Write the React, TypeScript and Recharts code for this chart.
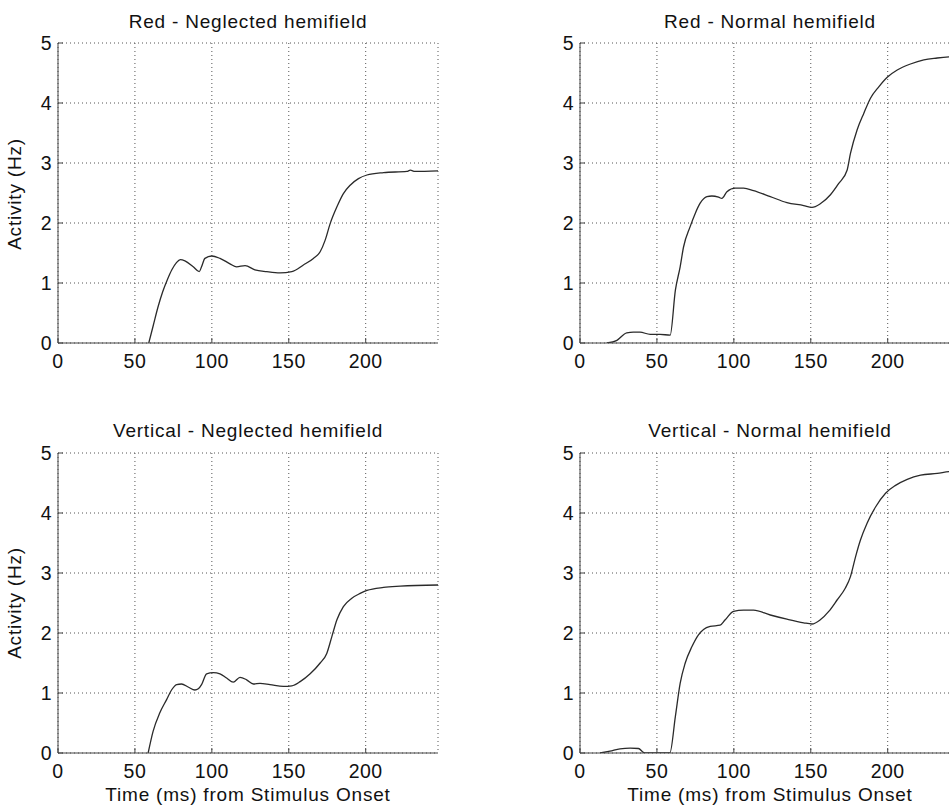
import React from 'react';
import { LineChart, Line, XAxis, YAxis, CartesianGrid } from 'recharts';

// ---- Data (time in ms, activity in Hz) ----
const redNeglectedTime = [59, 62, 65, 68, 71, 74, 77, 79.5, 82.5, 87.9, 91.8, 93.3, 95.5, 99.9, 105.3, 111.8, 116.1, 121.6, 128, 135.7, 144.3, 152, 159.5, 166, 170.4, 173.6, 176.9, 181.3, 185.5, 189.9, 195.3, 200.8, 211.6, 226.8, 229, 232, 247];
const redNeglectedActivity = [0, 0.3, 0.6, 0.85, 1.05, 1.22, 1.34, 1.39, 1.37, 1.27, 1.19, 1.27, 1.41, 1.45, 1.41, 1.32, 1.27, 1.29, 1.22, 1.19, 1.17, 1.19, 1.3, 1.41, 1.52, 1.71, 1.99, 2.27, 2.49, 2.63, 2.74, 2.8, 2.84, 2.86, 2.88, 2.86, 2.87];

const redNormalTime = [17.4, 24, 30.4, 34.7, 39, 45.6, 52, 58.6, 62, 65.1, 67.3, 71.6, 74.9, 78.1, 82.5, 85.7, 90.1, 92.2, 95.5, 100.9, 106.3, 112.8, 123.7, 134.5, 145.4, 150.8, 156.2, 162.8, 168.2, 173.6, 175.8, 180.1, 184.5, 188.8, 194.2, 199.7, 206.2, 214.8, 223.5, 232.2, 240.2, 247];
const redNormalActivity = [0, 0.045, 0.17, 0.18, 0.18, 0.145, 0.145, 0.13, 0.88, 1.27, 1.6, 1.94, 2.16, 2.33, 2.44, 2.45, 2.43, 2.41, 2.52, 2.58, 2.58, 2.54, 2.44, 2.34, 2.29, 2.26, 2.32, 2.47, 2.66, 2.88, 3.16, 3.55, 3.83, 4.08, 4.27, 4.43, 4.55, 4.65, 4.72, 4.75, 4.77, 4.78];

const verticalNeglectedTime = [58.6, 61.8, 66.2, 70.6, 73.8, 77.1, 80.3, 84.6, 89, 91.2, 93.3, 96.6, 100.9, 105.3, 109.6, 113.9, 118.3, 122.6, 127, 131.3, 137.8, 146.5, 152, 157.4, 163.9, 170.4, 174.7, 178, 181.3, 185.5, 191, 196.4, 200.8, 211.6, 222.5, 247];
const verticalNeglectedActivity = [0, 0.36, 0.67, 0.89, 1.05, 1.14, 1.15, 1.1, 1.05, 1.07, 1.14, 1.32, 1.34, 1.32, 1.25, 1.18, 1.26, 1.22, 1.15, 1.16, 1.14, 1.11, 1.12, 1.19, 1.32, 1.5, 1.66, 1.94, 2.22, 2.44, 2.58, 2.66, 2.71, 2.76, 2.78, 2.8];

const verticalNormalTime = [13, 19.5, 26, 32.6, 38, 41.2, 42.3, 50, 58.4, 62, 65.1, 68.4, 72.7, 77, 80.3, 84.6, 91.1, 94.4, 99.8, 106.3, 112.8, 123.7, 134.5, 145.4, 150.8, 156.2, 161.7, 167.1, 172.5, 175.8, 179.1, 182.3, 186.6, 192.1, 198.6, 205.1, 212.7, 221.4, 232.2, 240.2, 247];
const verticalNormalActivity = [0, 0.03, 0.07, 0.08, 0.075, 0.01, 0, 0, 0, 0.61, 1.16, 1.5, 1.77, 1.97, 2.06, 2.11, 2.13, 2.22, 2.36, 2.38, 2.38, 2.3, 2.23, 2.17, 2.15, 2.22, 2.36, 2.55, 2.75, 2.94, 3.27, 3.55, 3.83, 4.1, 4.33, 4.46, 4.56, 4.63, 4.66, 4.69, 4.7];

const xTicks = [0, 50, 100, 150, 200];
const yTicks = [0, 1, 2, 3, 4, 5];
const titles = [
  'Red - Neglected hemifield',
  'Red - Normal hemifield',
  'Vertical - Neglected hemifield',
  'Vertical - Normal hemifield',
];
const yLabel = 'Activity (Hz)';
const xLabel = 'Time (ms) from Stimulus Onset';

const zip = (t: number[], v: number[]) => t.map((x, i) => ({ t: x, v: v[i] }));

const FONT = '"Liberation Sans", Arial, Helvetica, sans-serif';
const TICK_FONT = { fontSize: 19.5, fill: '#111', fontFamily: FONT, letterSpacing: 0.5 };
const AXIS_COLOR = '#444';

function Panel({ data, left, top }: { data: { t: number; v: number }[]; left: number; top: number }) {
  return (
    <div style={{ position: 'absolute', left, top }}>
      <LineChart width={448} height={380} data={data} margin={{ top: 43, right: 10, bottom: 0, left: 0 }}>
        <CartesianGrid stroke="#555" strokeDasharray="1 3" strokeWidth={1} />
        <XAxis
          xAxisId={0}
          type="number"
          dataKey="t"
          domain={[0, 247]}
          ticks={xTicks}
          allowDataOverflow
          height={37}
          tickSize={-5}
          tickMargin={16}
          stroke={AXIS_COLOR}
          tick={TICK_FONT}
          interval={0}
        />
        <XAxis
          xAxisId="top"
          orientation="top"
          type="number"
          dataKey="t"
          domain={[0, 247]}
          ticks={xTicks}
          allowDataOverflow
          height={0}
          tickSize={-5}
          tickFormatter={() => ''}
          stroke={AXIS_COLOR}
          interval={0}
        />
        <YAxis
          yAxisId={0}
          type="number"
          domain={[0, 5]}
          ticks={yTicks}
          allowDataOverflow
          width={58}
          tickSize={-5}
          tickMargin={11}
          stroke={AXIS_COLOR}
          tick={TICK_FONT}
          interval={0}
        />
        <YAxis
          yAxisId="right"
          orientation="right"
          type="number"
          domain={[0, 5]}
          ticks={yTicks}
          allowDataOverflow
          width={0}
          tickSize={-5}
          tickFormatter={() => ''}
          stroke={AXIS_COLOR}
          interval={0}
        />
        <Line
          xAxisId={0}
          yAxisId={0}
          type="monotone"
          dataKey="v"
          stroke="#2a2a2a"
          strokeWidth={1.3}
          dot={false}
          isAnimationActive={false}
        />
      </LineChart>
    </div>
  );
}

export default function App() {
  const textStyle = { fontFamily: FONT, fontSize: 19, fill: '#111', letterSpacing: 0.8 } as const;
  return (
    <div style={{ position: 'absolute', left: 0, top: 0, width: 949, height: 809, overflow: 'hidden', background: '#fff' }}>
      <Panel data={zip(redNeglectedTime, redNeglectedActivity)} left={0} top={0} />
      <Panel data={zip(redNormalTime, redNormalActivity)} left={522} top={0} />
      <Panel data={zip(verticalNeglectedTime, verticalNeglectedActivity)} left={0} top={410} />
      <Panel data={zip(verticalNormalTime, verticalNormalActivity)} left={522} top={410} />
      <svg width={949} height={809} style={{ position: 'absolute', left: 0, top: 0, pointerEvents: 'none' }}>
        <text x={248} y={27.5} textAnchor="middle" style={textStyle}>{titles[0]}</text>
        <text x={770} y={27.5} textAnchor="middle" style={textStyle}>{titles[1]}</text>
        <text x={248} y={437} textAnchor="middle" style={textStyle}>{titles[2]}</text>
        <text x={770} y={437} textAnchor="middle" style={textStyle}>{titles[3]}</text>
        <text transform="translate(21,194) rotate(-90)" textAnchor="middle" style={textStyle}>{yLabel}</text>
        <text transform="translate(21,603) rotate(-90)" textAnchor="middle" style={textStyle}>{yLabel}</text>
        <text x={248} y={801} textAnchor="middle" style={textStyle}>{xLabel}</text>
        <text x={770} y={801} textAnchor="middle" style={textStyle}>{xLabel}</text>
      </svg>
    </div>
  );
}
